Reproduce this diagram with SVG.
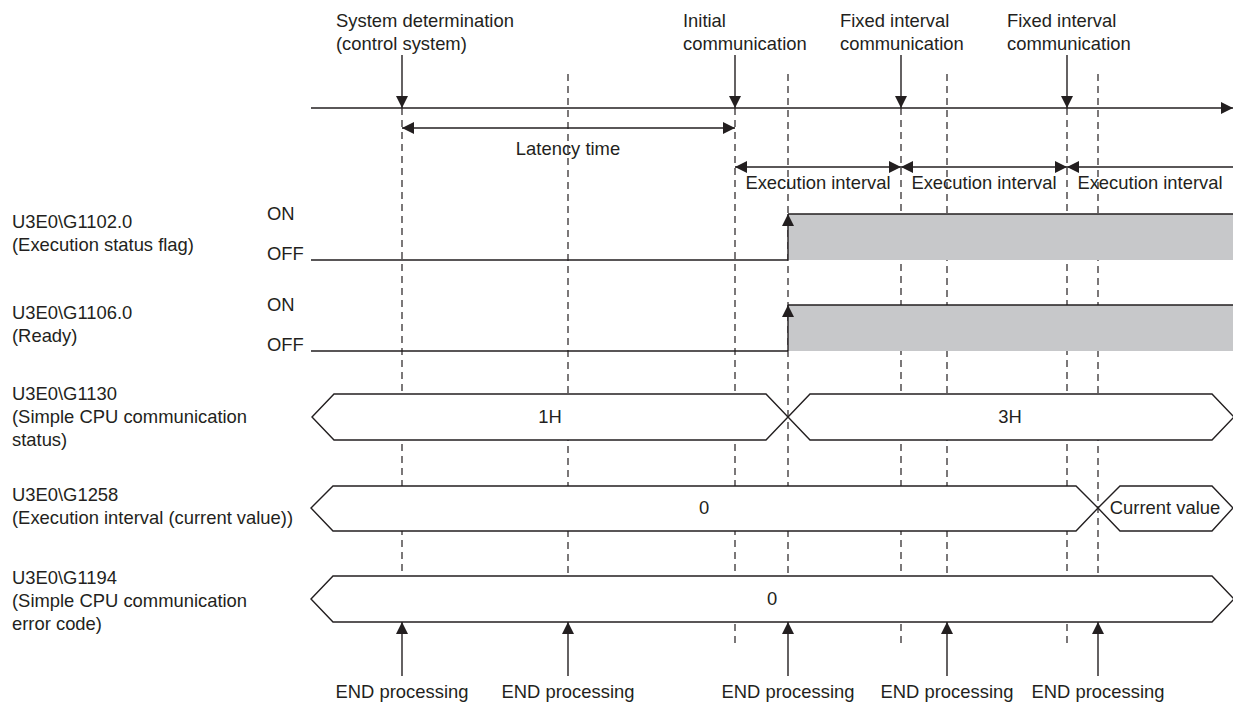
<svg xmlns="http://www.w3.org/2000/svg" width="1233" height="705" viewBox="0 0 1233 705">
<style>
text{font-family:"Liberation Sans",Arial,sans-serif;font-size:18.4px;fill:#231f20}
.c{text-anchor:middle}
.ln{stroke:#231f20;stroke-width:1.4;fill:none}
.ds{stroke:#231f20;stroke-width:1.2;stroke-dasharray:7 5;fill:none}
.hx{stroke:#231f20;stroke-width:1.4;fill:#fff}
.gr{fill:#c7c8ca}
.ar{stroke:#231f20;stroke-width:1.4;fill:none;marker-end:url(#ah)}
.ar2{stroke:#231f20;stroke-width:1.4;fill:none;marker-end:url(#ah);marker-start:url(#ah)}
.ar1{stroke:#231f20;stroke-width:1.4;fill:none;marker-start:url(#ah)}
</style>
<defs>
<marker id="ah" markerUnits="userSpaceOnUse" markerWidth="12" markerHeight="12" refX="12" refY="6" orient="auto-start-reverse" viewBox="0 0 12 12">
<path d="M0,0 L12,6 L0,12 z" fill="#231f20"/>
</marker>
</defs>
<rect width="1233" height="705" fill="#fff"/>

<g id="guides">
<path class="ds" d="M402,108V576 M568,74V576 M735,108V648 M788,74V576 M947,74V576 M901,108V648 M1067,108V648 M1098,74V576"/>
</g>

<g id="top-labels">
<text x="336" y="27">System determination</text>
<text x="336" y="50">(control system)</text>
<text x="683" y="27">Initial</text>
<text x="683" y="50">communication</text>
<text x="840" y="27">Fixed interval</text>
<text x="840" y="50">communication</text>
<text x="1007" y="27">Fixed interval</text>
<text x="1007" y="50">communication</text>
<text class="c" x="568" y="155">Latency time</text>
<text class="c" x="818" y="189">Execution interval</text>
<text class="c" x="984" y="189">Execution interval</text>
<text class="c" x="1150" y="189">Execution interval</text>
</g>

<g id="sig-G1102">
<text x="12" y="228">U3E0\G1102.0</text>
<text x="12" y="251">(Execution status flag)</text>
<text x="267" y="220">ON</text>
<text x="267" y="260">OFF</text>
<rect class="gr" x="788" y="214" width="445" height="46"/>
<path class="ln" d="M311,260H788 M788,214H1233"/>
<path class="ar" d="M788,260V214"/>
</g>

<g id="sig-G1106">
<text x="12" y="319">U3E0\G1106.0</text>
<text x="12" y="342">(Ready)</text>
<text x="267" y="311">ON</text>
<text x="267" y="351">OFF</text>
<rect class="gr" x="788" y="305" width="445" height="46"/>
<path class="ln" d="M311,351H788 M788,305H1233"/>
<path class="ar" d="M788,351V305"/>
</g>

<g id="sig-G1130">
<text x="12" y="400">U3E0\G1130</text>
<text x="12" y="423">(Simple CPU communication</text>
<text x="12" y="446">status)</text>
<polygon class="hx" points="312,417 334,394 766,394 788,417 766,440 334,440"/>
<polygon class="hx" points="788,417 810,394 1212,394 1234,417 1212,440 810,440"/>
<text class="c" x="550" y="423">1H</text>
<text class="c" x="1010" y="423">3H</text>
</g>

<g id="sig-G1258">
<text x="12" y="501">U3E0\G1258</text>
<text x="12" y="524">(Execution interval (current value))</text>
<polygon class="hx" points="311,508 333,486 1076,486 1098,508 1076,531 333,531"/>
<polygon class="hx" points="1098,508 1120,486 1212,486 1233,508 1212,531 1120,531"/>
<text class="c" x="704" y="514">0</text>
<text class="c" x="1165" y="514">Current value</text>
</g>

<g id="sig-G1194">
<text x="12" y="584">U3E0\G1194</text>
<text x="12" y="607">(Simple CPU communication</text>
<text x="12" y="630">error code)</text>
<polygon class="hx" points="311,599 333,576 1212,576 1234,599 1212,622 333,622"/>
<text class="c" x="772" y="605">0</text>
</g>

<g id="end-labels">
<text class="c" x="402" y="698">END processing</text>
<text class="c" x="568" y="698">END processing</text>
<text class="c" x="788" y="698">END processing</text>
<text class="c" x="947" y="698">END processing</text>
<text class="c" x="1098" y="698">END processing</text>
</g>

<g id="connectors">
<path class="ar" d="M311,108H1233"/>
<path class="ar" d="M402,55V108"/>
<path class="ar" d="M735,55V108"/>
<path class="ar" d="M901,55V108"/>
<path class="ar" d="M1067,55V108"/>
<path class="ar2" d="M402,128H735"/>
<path class="ar2" d="M735,167H901"/>
<path class="ar2" d="M901,167H1067"/>
<path class="ar1" d="M1067,167H1233"/>
<path class="ar" d="M402,676V622"/>
<path class="ar" d="M568,676V622"/>
<path class="ar" d="M788,676V622"/>
<path class="ar" d="M947,676V622"/>
<path class="ar" d="M1098,676V622"/>
</g>
</svg>
